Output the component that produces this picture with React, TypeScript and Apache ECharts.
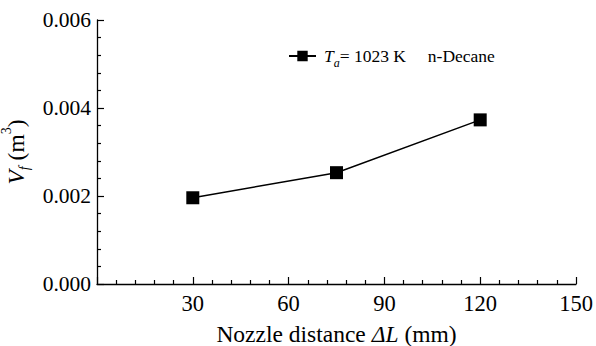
import React, { useEffect, useRef } from "react";
import * as echarts from "echarts";

const distances = [30, 75, 120];
const volumes = [0.00196, 0.00253, 0.00373];
const xTicks = [0, 30, 60, 90, 120, 150];
const yTicks = [0, 0.002, 0.004, 0.006];
const seriesName = "Ta = 1023 K n-Decane";

const FONT = "Liberation Serif";

const t = (size: number, extra: any = {}) => ({
  fontFamily: FONT,
  fontSize: size,
  color: "#000",
  ...extra,
});

export default function App() {
  const ref = useRef<HTMLDivElement>(null);
  useEffect(() => {
    if (!ref.current) return;
    const chart = echarts.init(ref.current, undefined, { renderer: "svg" });
    chart.setOption({
      animation: false,
      backgroundColor: "#fff",
      textStyle: { fontFamily: FONT },
      grid: { left: 97, right: 20, top: 20, bottom: 62, containLabel: false, outerBoundsMode: "none" },
      legend: {
        show: true,
        left: 283,
        top: 42,
        itemWidth: 27,
        itemHeight: 13,
        data: [seriesName],
        formatter: () => "{i|T}{s|a}{n|= 1023 K     n-Decane}",
        textStyle: {
          fontFamily: FONT,
          color: "#000",
          padding: [0, 0, 0, 3],
          rich: {
            i: t(17.5, { fontStyle: "italic", lineHeight: 26 }),
            s: t(12, { fontStyle: "italic", verticalAlign: "bottom", lineHeight: 12 }),
            n: t(17.5, { lineHeight: 26 }),
          },
        },
      },
      xAxis: {
        type: "value",
        min: xTicks[0],
        max: xTicks[xTicks.length - 1],
        interval: 30,
        name: "{n|Nozzle distance }{i|ΔL}{n| (mm)}",
        nameLocation: "middle",
        nameGap: 38,
        nameTextStyle: {
          fontFamily: FONT,
          fontSize: 23.5,
          color: "#000",
          rich: {
            n: t(23.5),
            i: t(23.5, { fontStyle: "italic" }),
          },
        },
        axisLine: { show: true, onZero: false, lineStyle: { color: "#000", width: 1.3 } },
        axisTick: { show: true, inside: true, length: 7, lineStyle: { color: "#000", width: 1.2 } },
        minorTick: { show: true, splitNumber: 5, length: 4, lineStyle: { color: "#000", width: 1.2 } },
        splitLine: { show: false },
        axisLabel: {
          margin: 8,
          fontFamily: FONT,
          fontSize: 22,
          color: "#000",
          rich: { a: t(22.5) },
          formatter: (v: number) => (v === 0 ? "" : "{a|" + String(v) + "}"),
        },
      },
      yAxis: {
        type: "value",
        min: yTicks[0],
        max: yTicks[yTicks.length - 1],
        interval: 0.002,
        name: "{v|V}{f|f}{n| (m}{sup|3}{n|)}",
        nameLocation: "middle",
        nameRotate: 90,
        nameGap: 49,
        nameTextStyle: {
          fontFamily: FONT,
          color: "#000",
          rich: {
            v: t(23.5, { fontStyle: "italic", lineHeight: 32 }),
            f: t(14, { fontStyle: "italic", verticalAlign: "bottom", lineHeight: 14 }),
            n: t(23.5, { lineHeight: 32 }),
            sup: t(14, { verticalAlign: "top", lineHeight: 14 }),
          },
        },
        axisLine: { show: true, lineStyle: { color: "#000", width: 1.3 } },
        axisTick: { show: true, inside: true, length: 7, lineStyle: { color: "#000", width: 1.2 } },
        minorTick: { show: true, splitNumber: 5, length: 4, lineStyle: { color: "#000", width: 1.2 } },
        splitLine: { show: false },
        axisLabel: {
          margin: 6,
          fontFamily: FONT,
          fontSize: 21,
          color: "#000",
          rich: { a: t(21.5) },
          formatter: (v: number) => "{a|" + v.toFixed(3) + "}",
        },
      },
      series: [
        {
          name: seriesName,
          type: "line",
          data: distances.map((d, i) => [d, volumes[i]]),
          symbol: "rect",
          symbolSize: 13,
          itemStyle: { color: "#000" },
          lineStyle: { color: "#000", width: 1.5 },
        },
      ],
    });
    return () => chart.dispose();
  }, []);
  return (
    <div
      ref={ref}
      style={{ position: "fixed", left: 0, top: 0, width: 596, height: 346, background: "#fff" }}
    />
  );
}
